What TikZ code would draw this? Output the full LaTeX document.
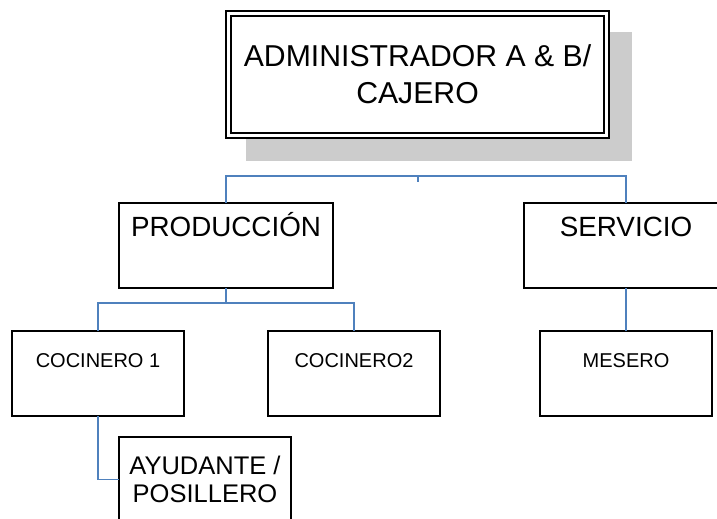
\documentclass[tikz,border=0pt]{standalone}
\usepackage{fontspec}
\setmainfont{Liberation Sans}
\definecolor{linkblue}{HTML}{4F81BD}

\begin{document}
\begin{tikzpicture}[
    % one unit = one pixel of the chart, y pointing down
    x=1pt, y=-1pt,
    box/.style={draw, line width=1.3pt, fill=white, inner sep=0pt, outer sep=0pt, align=center, anchor=north west},
    bigbox/.style={box, minimum width=#1, text height=33pt, text depth=52pt, font=\fontsize{27.8}{32}\selectfont},
    smallbox/.style={box, minimum width=172pt, text height=36pt, text depth=49pt, font=\fontsize{20}{23}\selectfont},
    link/.style={draw=linkblue, line width=1.4pt}
]
  \useasboundingbox (0,0) rectangle (717,519);
  \clip (0,0) rectangle (717,519);

  % Shadow behind the head box
  \fill[gray!40] (246,32) rectangle (632,161);

  % Head
  \node[box, anchor=center, double, line width=1.8pt, double distance=3pt, minimum width=378pt, minimum height=122pt,
        font=\fontsize{30.2}{37}\selectfont] (admin) at (417.5,74.5) {ADMINISTRADOR A \& B/\\CAJERO};

  % Areas
  \node[bigbox=214pt] (prod) at (119,203) {PRODUCCIÓN};
  \node[bigbox=204pt] (serv) at (524,203) {SERVICIO};

  % Staff
  \node[smallbox] (coc1) at (12,331) {COCINERO 1};
  \node[smallbox] (coc2) at (268,331) {COCINERO2};
  \node[smallbox] (mes) at (540,331) {MESERO};
  \node[box, minimum width=172pt, minimum height=85pt, font=\fontsize{25.5}{28}\selectfont] (ayud) at (119,437) {AYUDANTE /\\POSILLERO};

  % Connectors
  \coordinate (hub) at (418,176);
  \coordinate (stub) at (418,182);
  \coordinate (pjoin) at (226,303);
  \draw[link] (prod.north) |- (hub) -| (serv.north);
  \draw[link] (hub) -- (stub);
  \draw[link] (prod.south) -- (pjoin);
  \draw[link] (coc1.north) |- (pjoin) -| (coc2.north);
  \draw[link] (serv.south) -- (mes.north);
  \draw[link] (coc1.south) |- (ayud.west);

\end{tikzpicture}
\end{document}
